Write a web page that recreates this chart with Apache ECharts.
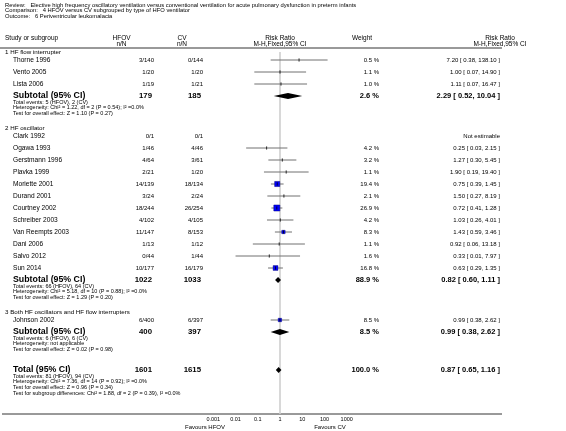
<!DOCTYPE html>
<html><head><meta charset="utf-8">
<script src="https://cdn.jsdelivr.net/npm/echarts@6/dist/echarts.min.js"></script>
<style>html,body{margin:0;padding:0;background:#fff}#c{width:566px;height:431px}</style>
</head><body><div id="c"></div>
<script>
// ---------- DATA ----------
const titleLines = [
  'Review:   Elective high frequency oscillatory ventilation versus conventional ventilation for acute pulmonary dysfunction in preterm infants',
  'Comparison:   4 HFOV versus CV subgrouped by type of HFO ventilator',
  'Outcome:   6 Periventricular leukomalacia'
];
const groupNames = ['1 HF flow interrupter', '2 HF oscillator', '3 Both HF oscillators and HF flow interrupters'];
const studyNames = ['Thorne 1996','Vento 2005','Lista 2006','Clark 1992','Ogawa 1993','Gerstmann 1996','Plavka 1999','Moriette 2001','Durand 2001','Courtney 2002','Schreiber 2003','Van Reempts 2003','Dani 2006','Salvo 2012','Sun 2014','Johnson 2002'];
const studyGroup = [0,0,0,1,1,1,1,1,1,1,1,1,1,1,1,2];
const hfovNN = ['3/140','1/20','1/19','0/1','1/46','4/64','2/21','14/139','3/24','18/244','4/102','11/147','1/13','0/44','10/177','6/400'];
const cvNN   = ['0/144','1/20','1/21','0/1','4/46','3/61','1/20','18/134','2/24','26/254','4/105','8/153','1/12','1/44','16/179','6/397'];
const studyWeight = [0.5,1.1,1.0,null,4.2,3.2,1.1,19.4,2.1,26.9,4.2,8.3,1.1,1.6,16.8,8.5];
const studyRR = [7.20,1.00,1.11,null,0.25,1.27,1.90,0.75,1.50,0.72,1.03,1.43,0.92,0.33,0.63,0.99];
const studyLo = [0.38,0.07,0.07,null,0.03,0.30,0.19,0.39,0.27,0.41,0.26,0.59,0.06,0.01,0.29,0.38];
const studyHi = [138.10,14.90,16.47,null,2.15,5.45,19.40,1.45,8.19,1.28,4.01,3.46,13.18,7.97,1.35,2.62];

const subHFOV = [179, 1022, 400];
const subCV = [185, 1033, 397];
const subWeight = [2.6, 88.9, 8.5];
const subRR = [2.29, 0.82, 0.99];
const subLo = [0.52, 0.60, 0.38];
const subHi = [10.04, 1.11, 2.62];
const subNotes = [
  ['Total events: 5 (HFOV), 2 (CV)', 'Heterogeneity: Chi\u00b2 = 1.22, df = 2 (P = 0.54); I\u00b2 =0.0%', 'Test for overall effect: Z = 1.10 (P = 0.27)'],
  ['Total events: 66 (HFOV), 64 (CV)', 'Heterogeneity: Chi\u00b2 = 5.18, df = 10 (P = 0.88); I\u00b2 =0.0%', 'Test for overall effect: Z = 1.29 (P = 0.20)'],
  ['Total events: 6 (HFOV), 6 (CV)', 'Heterogeneity: not applicable', 'Test for overall effect: Z = 0.02 (P = 0.98)']
];
const totalHFOV = 1601, totalCV = 1615, totalWeight = 100.0, totalRR = 0.87, totalLo = 0.65, totalHi = 1.16;
const totalNotes = ['Total events: 81 (HFOV), 94 (CV)', 'Heterogeneity: Chi\u00b2 = 7.36, df = 14 (P = 0.92); I\u00b2 =0.0%', 'Test for overall effect: Z = 0.96 (P = 0.34)', 'Test for subgroup differences: Chi\u00b2 = 1.88, df = 2 (P = 0.39), I\u00b2 =0.0%'];
const tickLabels = ['0.001','0.01','0.1','1','10','100','1000'];
const favours = ['Favours HFOV', 'Favours CV'];

// ---------- LAYOUT ----------
const FONT = '"Liberation Sans", Arial, sans-serif';
const COL = {head: 5, name: 13, hfov: 154, cv: 203, weight: 379, rr: 500};
const headY = [], studyY = [], subY = [], noteY = [];
let y = 52;
groupNames.forEach((g, gi) => {
  headY[gi] = y; y += 8;
  studyNames.forEach((s, i) => { if (studyGroup[i] === gi) { studyY[i] = y; y += 12; } });
  subY[gi] = y; y += 6.3;
  noteY[gi] = [];
  subNotes[gi].forEach((n, k) => { noteY[gi][k] = y; y += 5.6; });
  y += 14.5 - 5.6;
});
const totalY = y + 6;
const totalNoteY = totalNotes.map((n, k) => totalY + 6.3 + k * 5.6);
const AXIS_Y = 414;

const fmtRR = (r, l, h) => r.toFixed(2) + ' [ ' + l.toFixed(2) + ', ' + h.toFixed(2) + ' ]';
const fmtW = w => w.toFixed(1) + ' %';

const texts = [];
function T(text, x, yy, size, align, bold) {
  texts.push({type: 'text', silent: true, x: x, y: yy, style: {text: text, fill: '#000', font: (bold ? 'bold ' : '') + size + 'px ' + FONT, textAlign: align || 'left', textVerticalAlign: 'middle'}});
}
// title
titleLines.forEach((t, k) => T(t, 5, 5 + k * 5.5, 5.8, 'left'));
// header
T('Study or subgroup', 5, 38, 6.5);
T('HFOV', 121.5, 38, 6.5, 'center'); T('n/N', 121.5, 44, 6.5, 'center');
T('CV', 182, 38, 6.5, 'center'); T('n/N', 182, 44, 6.5, 'center');
T('Risk Ratio', 280, 38, 6.5, 'center'); T('M-H,Fixed,95% CI', 280, 44, 6.5, 'center');
T('Weight', 362, 38, 6.5, 'center');
T('Risk Ratio', 500, 38, 6.5, 'center'); T('M-H,Fixed,95% CI', 500, 44, 6.5, 'center');

groupNames.forEach((g, gi) => {
  T(g, COL.head, headY[gi], 6.2);
  T('Subtotal (95% CI)', COL.name, subY[gi], 8.8, 'left', true);
  T(String(subHFOV[gi]), COL.hfov - 2, subY[gi], 7.8, 'right', true);
  T(String(subCV[gi]), COL.cv - 2, subY[gi], 7.8, 'right', true);
  T(fmtW(subWeight[gi]), COL.weight, subY[gi], 7.5, 'right', true);
  T(fmtRR(subRR[gi], subLo[gi], subHi[gi]), COL.rr, subY[gi], 7.5, 'right', true);
  subNotes[gi].forEach((n, k) => T(n, COL.name, noteY[gi][k], 5.5));
});
studyNames.forEach((s, i) => {
  T(s, COL.name, studyY[i], 6.6);
  T(hfovNN[i], COL.hfov, studyY[i], 6, 'right');
  T(cvNN[i], COL.cv, studyY[i], 6, 'right');
  if (studyWeight[i] != null) {
    T(fmtW(studyWeight[i]), COL.weight, studyY[i], 6, 'right');
    T(fmtRR(studyRR[i], studyLo[i], studyHi[i]), COL.rr, studyY[i], 6, 'right');
  } else {
    T('Not estimable', COL.rr, studyY[i], 6, 'right');
  }
});
T('Total (95% CI)', COL.name, totalY, 8.8, 'left', true);
T(String(totalHFOV), COL.hfov - 2, totalY, 7.8, 'right', true);
T(String(totalCV), COL.cv - 2, totalY, 7.8, 'right', true);
T(fmtW(totalWeight), COL.weight, totalY, 7.5, 'right', true);
T(fmtRR(totalRR, totalLo, totalHi), COL.rr, totalY, 7.5, 'right', true);
totalNotes.forEach((n, k) => T(n, COL.name, totalNoteY[k], 5.5));
T(favours[0], 205, 427, 6, 'center');
T(favours[1], 330, 427, 6, 'center');

const lines = [
  {type: 'line', silent: true, shape: {x1: 0, y1: 48, x2: 502, y2: 48}, style: {stroke: '#000', lineWidth: 0.8}},
  {type: 'line', silent: true, shape: {x1: 2, y1: AXIS_Y, x2: 502, y2: AXIS_Y}, style: {stroke: '#000', lineWidth: 0.8}}
];

// ---------- SERIES DATA ----------
const studyData = studyNames.map((s, i) => studyRR[i] == null ? null : [studyRR[i], studyY[i], studyLo[i], studyHi[i], studyWeight[i]]).filter(d => d);
const diamondData = subRR.map((r, gi) => [r, subY[gi], subLo[gi], subHi[gi]]).concat([[totalRR, totalY, totalLo, totalHi]]);

const chart = echarts.init(document.getElementById('c'), null, {renderer: 'canvas'});
chart.setOption({
  animation: false,
  backgroundColor: '#fff',
  grid: {left: 213.3, right: 566 - 346.7, top: 0, bottom: 431 - AXIS_Y},
  xAxis: {
    type: 'log', logBase: 10, min: 0.001, max: 1000, interval: 1,
    axisLine: {show: false},
    axisTick: {show: true, inside: true, length: 2, lineStyle: {color: '#000', width: 0.8}},
    axisLabel: {fontSize: 5.5, fontFamily: FONT, color: '#000', margin: 2.5,
      formatter: v => tickLabels[Math.round(Math.log10(v)) + 3]},
    splitLine: {show: false}
  },
  yAxis: {type: 'value', inverse: true, min: 0, max: AXIS_Y, show: false},
  graphic: texts.concat(lines),
  series: [
    {type: 'line', data: [[1, 52], [1, AXIS_Y]], symbol: 'none', silent: true, z: 1,
     lineStyle: {color: '#cfcfcf', width: 1.6}},
    {type: 'custom', z: 3, silent: true, data: studyData,
     renderItem: (params, api) => {
       const p = api.coord([api.value(0), api.value(1)]);
       const lo = api.coord([api.value(2), api.value(1)]);
       const hi = api.coord([api.value(3), api.value(1)]);
       const size = 1.16 * Math.sqrt(api.value(4));
       const children = [
         {type: 'line', shape: {x1: lo[0], y1: p[1], x2: hi[0], y2: p[1]}, style: {stroke: '#707070', lineWidth: 1}}
       ];
       if (size >= 3) children.push({type: 'rect', shape: {x: p[0] - size / 2, y: p[1] - size / 2, width: size, height: size}, style: {fill: '#0000ff', stroke: '#00007a', lineWidth: 0.5}});
       children.push({type: 'line', shape: {x1: p[0], y1: p[1] - 1.6, x2: p[0], y2: p[1] + 1.6}, style: {stroke: '#000', lineWidth: 0.8}});
       return {type: 'group', children: children};
     }},
    {type: 'custom', z: 3, silent: true, data: diamondData,
     renderItem: (params, api) => {
       const p = api.coord([api.value(0), api.value(1)]);
       const lo = api.coord([api.value(2), api.value(1)]);
       const hi = api.coord([api.value(3), api.value(1)]);
       return {type: 'polygon', shape: {points: [[lo[0], p[1]], [p[0], p[1] - 3], [hi[0], p[1]], [p[0], p[1] + 3]]}, style: {fill: '#000'}};
     }}
  ]
});
</script></body></html>
